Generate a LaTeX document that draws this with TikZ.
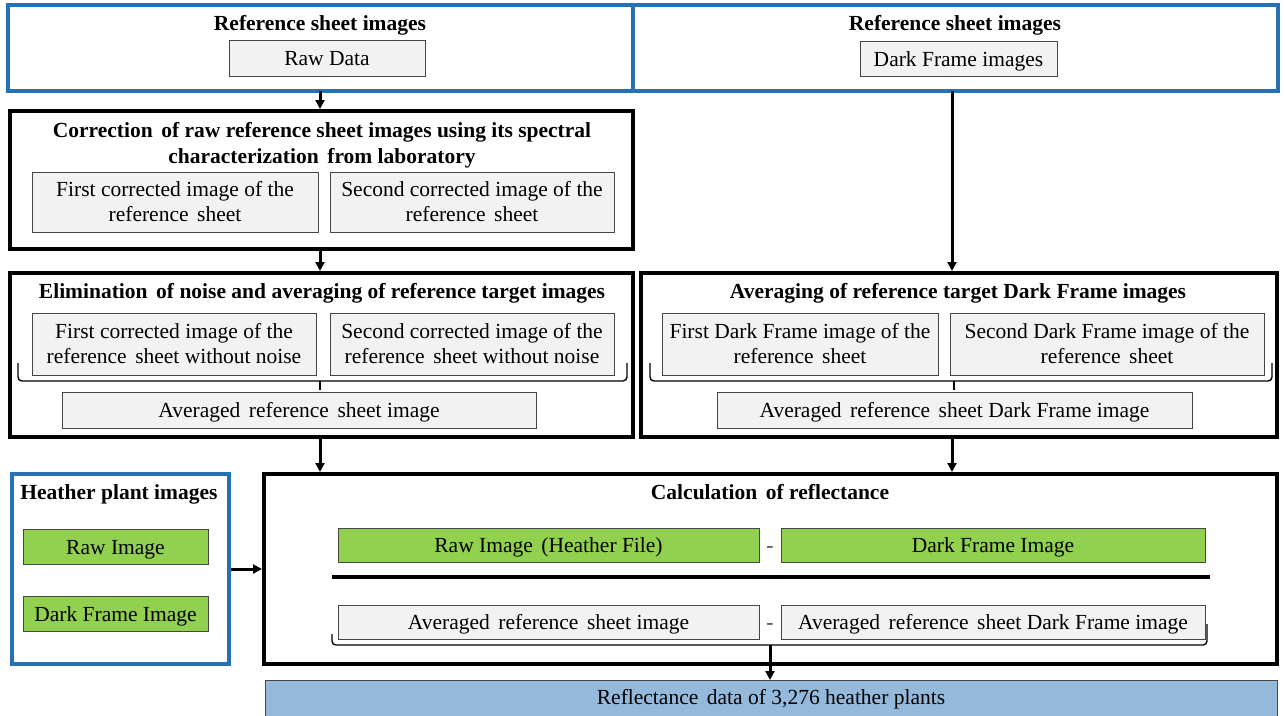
\documentclass[tikz,border=0pt]{standalone}
\usepackage{fontspec}
\setmainfont{Liberation Serif}
\usetikzlibrary{arrows.meta}
\definecolor{frameblue}{RGB}{38,113,178}
\definecolor{boxgray}{RGB}{242,242,242}
\definecolor{boxedge}{RGB}{70,70,70}
\definecolor{plantgreen}{RGB}{146,208,80}
\definecolor{resultblue}{RGB}{149,185,218}
\newcommand{\gap}{\hspace{0.15em}}
\tikzset{
  % single-line text, fixed height/depth so the line sits low in its box
  fnt/.style={font=\fontsize{21.5}{25}\selectfont, inner sep=0pt, text height=17pt, text depth=2pt},
  bfnt/.style={font=\fontsize{21.5}{26}\selectfont\bfseries, inner sep=0pt, text height=17pt, text depth=2pt},
  % two-line text
  txt/.style={font=\fontsize{21.5}{25}\selectfont, align=center, inner sep=0pt},
  ttl/.style={font=\fontsize{21.5}{26}\selectfont\bfseries, align=center, inner sep=0pt},
  bluefr/.style={draw=frameblue, line width=4pt, inner sep=0pt},
  blackfr/.style={draw=black, line width=4pt, inner sep=0pt},
  boxed/.style={draw=boxedge, line width=0.8pt},
  gray2/.style={txt, boxed, fill=boxgray},
  gray1/.style={fnt, boxed, fill=boxgray},
  green1/.style={fnt, boxed, fill=plantgreen},
  resbox/.style={boxed, fill=resultblue, inner sep=0pt},
  arr/.style={line width=3pt, -{Triangle[length=9pt,width=9pt]}},
  brc/.style={line width=1.4pt, rounded corners=4pt},
}
\begin{document}
\begin{tikzpicture}[x=1pt,y=-1pt]
\useasboundingbox (0,0) rectangle (1285,715);

% --- source images ---
\node[bluefr, minimum width=625pt, minimum height=86pt] (srcL) at (320.5,48) {};
\node[bfnt] (srcLt) at (320,23) {Reference sheet images};
\node[gray1, minimum width=196pt, minimum height=36pt] (raw) at (327,58) {Raw Data};

\node[bluefr, minimum width=645pt, minimum height=86pt] (srcR) at (955.5,48) {};
\node[bfnt] (srcRt) at (955,23) {Reference sheet images};
\node[gray1, minimum width=197pt, minimum height=35pt] (dark) at (958.5,58.5) {Dark Frame images};

% --- correction step ---
\node[blackfr, minimum width=623pt, minimum height=138pt] (corr) at (321.5,180) {};
\node[ttl] (corrt) at (322,145) {Correction\gap{} of raw reference sheet images using its spectral\\characterization\gap{} from laboratory};
\node[gray2, minimum width=286pt, minimum height=60pt] (c1) at (175,202) {First corrected image of the\\reference\gap{} sheet};
\node[gray2, minimum width=284pt, minimum height=60pt] (c2) at (472,202) {Second corrected image of the\\reference\gap{} sheet};

% --- noise elimination and averaging ---
\node[blackfr, minimum width=623pt, minimum height=164pt] (elim) at (321.5,355) {};
\node[bfnt] (elimt) at (322,291) {Elimination\gap{} of noise and averaging of reference target images};
\node[gray2, minimum width=284pt, minimum height=62pt] (e1) at (174,344) {First corrected image of the\\reference\gap{} sheet without noise};
\node[gray2, minimum width=284pt, minimum height=62pt] (e2) at (472,344) {Second corrected image of the\\reference\gap{} sheet without noise};
\node[gray1, minimum width=474pt, minimum height=36pt] (avg) at (299,410) {Averaged\gap{} reference\gap{} sheet image};
\draw[brc] (18,363) -- (18,381) -- (627,381) -- (627,363);
\draw[line width=1.4pt] (320,381) -- (320,390);

% --- dark frame averaging ---
\node[blackfr, minimum width=636pt, minimum height=164pt] (davg) at (959,355) {};
\node[bfnt] (davgt) at (958,291) {Averaging of reference target Dark Frame images};
\node[gray2, minimum width=276pt, minimum height=62pt] (d1) at (800,344) {First Dark Frame image of the\\reference\gap{} sheet};
\node[gray2, minimum width=314pt, minimum height=62pt] (d2) at (1107,344) {Second Dark Frame image of the\\reference\gap{} sheet};
\node[gray1, minimum width=475pt, minimum height=36pt] (avgd) at (954.5,410) {Averaged\gap{} reference\gap{} sheet Dark Frame image};
\draw[brc] (650,363) -- (650,381) -- (1272,381) -- (1272,363);
\draw[line width=1.4pt] (954,381) -- (954,390);

% --- heather plant images ---
\node[bluefr, minimum width=217pt, minimum height=190pt] (plant) at (120.5,569) {};
\node[bfnt] (plantt) at (119,492) {Heather plant images};
\node[green1, minimum width=185pt, minimum height=35pt] (praw) at (115.5,546.5) {Raw Image};
\node[green1, minimum width=185pt, minimum height=35pt] (pdark) at (115.5,613.5) {Dark Frame Image};

% --- reflectance calculation ---
\node[blackfr, minimum width=1013pt, minimum height=190pt] (calc) at (770.5,569) {};
\node[bfnt] (calct) at (770,492) {Calculation\gap{} of reflectance};
\node[green1, minimum width=421pt, minimum height=34pt] (n1) at (548.5,545) {Raw Image\gap{} (Heather File)};
\node[fnt, text=boxedge] (m1) at (770,545) {-};
\node[green1, minimum width=424pt, minimum height=34pt] (n2) at (993,545) {Dark Frame Image};
\draw[line width=4pt] (332,577) -- (1210,577);
\node[gray1, minimum width=421pt, minimum height=34pt] (q1) at (548.5,622) {Averaged\gap{} reference\gap{} sheet image};
\node[fnt, text=boxedge] (m2) at (770,622) {-};
\node[gray1, minimum width=424pt, minimum height=34pt] (q2) at (993,622) {Averaged\gap{} reference\gap{} sheet Dark Frame image};
\draw[brc] (332,634) -- (332,645) -- (1207,645) -- (1207,624);
\coordinate (tip) at (770,645);

% --- result ---
\node[resbox, minimum width=1012pt, minimum height=38pt, anchor=north] (res) at (771,680) {};
\node[fnt] (rest) at (771,697) {Reflectance\gap{} data of 3,276 heather plants};

% --- connectors ---
\coordinate (s1) at (320,91);
\coordinate (s2) at (320,249);
\coordinate (s3) at (952,91);
\coordinate (s4) at (320,437);
\coordinate (s5) at (952,437);
\draw[arr] (s1) -- (s1 |- corr.north);
\draw[arr] (s2) -- (s2 |- elim.north);
\draw[arr] (s3) -- (s3 |- davg.north);
\draw[arr] (s4) -- (s4 |- calc.north);
\draw[arr] (s5) -- (s5 |- calc.north);
\draw[arr] (plant.east) -- (calc.west);
\draw[arr] (tip) -- (tip |- res.north);
\end{tikzpicture}
\end{document}
